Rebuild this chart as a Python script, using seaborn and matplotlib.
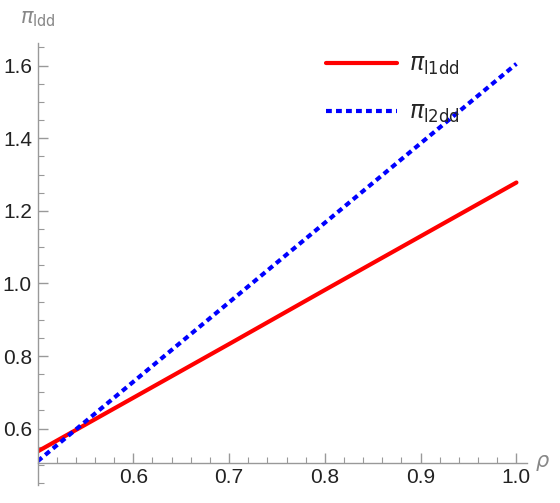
import numpy as np
import pandas as pd
import matplotlib
matplotlib.use("Agg")
import matplotlib.pyplot as plt
import seaborn as sns
from matplotlib.ticker import MultipleLocator

# values
rho = [0.5, 0.6, 0.7, 0.8, 0.9, 1.0]
pi_l1dd = [0.537, 0.685, 0.833, 0.982, 1.130, 1.278]
pi_l2dd = [0.510, 0.729, 0.948, 1.167, 1.386, 1.605]
series_labels = [r"$\pi_{\mathrm{l1dd}}$", r"$\pi_{\mathrm{l2dd}}$"]
x_ticks = [0.6, 0.7, 0.8, 0.9, 1.0]
y_ticks = [0.6, 0.8, 1.0, 1.2, 1.4, 1.6]

sns.set_style("ticks")
plt.rcParams["font.family"] = ["Liberation Sans Narrow", "Liberation Sans", "DejaVu Sans"]
plt.rcParams["mathtext.fontset"] = "dejavusans"

df = pd.DataFrame({"rho": rho, "l1": pi_l1dd, "l2": pi_l2dd})

fig = plt.figure(figsize=(5.6, 5.03), dpi=100)
ax = fig.add_axes([0.067, 0.036, 0.874, 0.879])

sns.lineplot(data=df, x="rho", y="l1", ax=ax, color="#ff0000", lw=3.0,
             label=series_labels[0])
sns.lineplot(data=df, x="rho", y="l2", ax=ax, color="#0000ff", lw=3.0,
             linestyle=(0, (1.4, 1.0)), label=series_labels[1])

ax.set_xlim(0.5, 1.011)
ax.set_ylim(0.445, 1.663)

axis_col = "#999999"
ax.spines["left"].set_position(("data", 0.5))
ax.spines["bottom"].set_position(("data", 0.506))
ax.spines["top"].set_visible(False)
ax.spines["right"].set_visible(False)
for s in ("left", "bottom"):
    ax.spines[s].set_color(axis_col)
    ax.spines[s].set_linewidth(1.0)

ax.set_xticks(x_ticks)
ax.set_yticks(y_ticks)
ax.set_xticklabels([f"{v:.1f}" for v in x_ticks])
ax.set_yticklabels([f"{v:.1f}" for v in y_ticks])
ax.xaxis.set_minor_locator(MultipleLocator(0.02))
ax.yaxis.set_minor_locator(MultipleLocator(0.05))
ax.tick_params(which="major", direction="in", length=7, width=1, color=axis_col,
               labelsize=15, labelcolor="#222222", pad=4)
ax.tick_params(which="minor", direction="in", length=4, width=0.8, color=axis_col)

ax.set_xlabel("")
ax.set_ylabel("")
fig.text(0.955, 0.079, r"$\rho$", color="#888888", fontsize=15, ha="left", va="center")
fig.text(0.068, 0.962, r"$\pi_{\mathrm{ldd}}$", color="#888888", fontsize=15,
         ha="center", va="center")

ax.legend(loc="upper left", bbox_to_anchor=(0.545, 0.935), bbox_transform=fig.transFigure,
          frameon=False, fontsize=17, handlelength=3.0, labelspacing=1.05,
          handletextpad=0.5)

fig.savefig("out.png", dpi=100)
